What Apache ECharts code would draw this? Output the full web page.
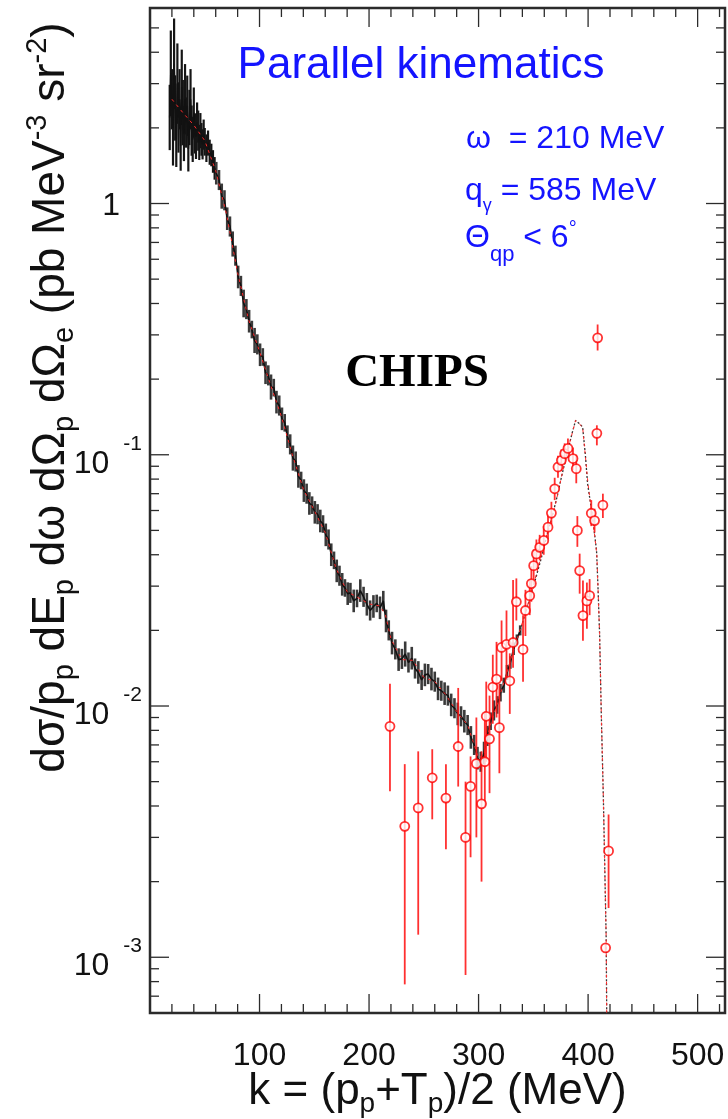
<!DOCTYPE html>
<html><head><meta charset="utf-8">
<script src="https://cdn.jsdelivr.net/npm/echarts@6/dist/echarts.min.js"></script>
<style>html,body{margin:0;padding:0;background:#fff}#c{width:728px;height:1119px}</style>
</head><body><div id="c"></div>
<script>
// ---- CHIPS simulation (noisy histogram) ----
const simK = [18,19,20,21,22,23,24,25,26,27,28,29,30,31,32,33,34,35,36,37,38,39,40,41,42,43,44,45,46,47,48,49,50,51.5,53,54.5,56,57.5,59,
  60.5,63,65.5,68,70.5,73,75.5,78,80.5,83,85.5,88,90.5,93,95.5,98,100.5,103,105.5,108,110.5,113,115.5,118,120.5,123,125.5,128,
  130.5,133,135.5,138,140.5,143,145.5,148,150.5,153,155.5,158,160.5,163,165.5,168,170.5,173,175.5,178,180.5,183,186,189,192,195,
  198,201,204,207,210,213,215.5,218,221,224,227,230,233,236,239,242,245,248,251,254,257,260,263,266,269,272,275,278,281,284,287,
  290,293,296,299,302,305,308,311,314,317,320,323,326,329,332,335,338];
const simY = [2.2,3.3,2.6,2.0,3.6,2.4,1.8,3.0,2.2,2.6,1.7,2.9,2.3,1.9,2.6,2.1,2.45,1.65,2.2,2.6,1.95,1.8,2.3,1.9,1.85,2.1,1.95,1.75,1.95,1.8,1.72,1.88,1.76,1.66,1.74,1.6,1.56,1.47,1.38,
  1.32,1.24,1.07,1.03,0.87,0.81,0.69,0.62,0.51,0.47,0.40,0.38,0.34,0.315,0.285,0.275,0.25,0.245,0.212,0.207,0.186,0.185,0.162,0.157,0.139,0.134,0.118,0.110,
  0.097,0.094,0.082,0.079,0.072,0.070,0.064,0.063,0.059,0.058,0.0545,0.053,0.048,0.046,0.040,0.038,0.0345,0.033,0.0305,0.0295,0.028,0.0282,0.0262,0.0268,0.0288,0.0272,
  0.0254,0.0240,0.0249,0.0256,0.0246,0.0262,0.0218,0.0200,0.0178,0.0168,0.0153,0.0154,0.0161,0.0149,0.0155,0.0141,0.0136,0.0127,0.0133,0.0134,0.0128,0.0125,0.0117,0.0115,0.0112,0.0110,0.0101,0.0098,0.0093,0.0091,0.0087,
  0.0084,0.0075,0.0070,0.0062,0.0060,0.0065,0.0076,0.0087,0.0096,0.0101,0.0113,0.0121,0.0136,0.0149,0.0169,0.0184,0.0200];
// half-length of the simulation error bars, in decades
const simErr = [0.13,0.17,0.12,0.15,0.18,0.13,0.11,0.16,0.14,0.12,0.1,0.15,0.13,0.11,0.14,0.1,0.12,0.09,0.11,0.12,0.1,0.09,0.1,0.08,0.09,0.08,0.08,0.07,0.07,0.065,0.06,0.06,0.055,0.055,0.05,0.05,0.045,0.045,0.045,
  0.045,0.04,0.05,0.04,0.045,0.04,0.05,0.04,0.045,0.04,0.055,0.04,0.045,0.035,0.05,0.04,0.045,0.035,0.045,0.04,0.05,0.035,0.045,0.04,0.045,0.035,0.045,0.04,
  0.05,0.04,0.045,0.035,0.045,0.04,0.045,0.035,0.045,0.04,0.045,0.035,0.045,0.04,0.045,0.035,0.045,0.04,0.045,0.035,0.045,0.04,0.045,0.035,0.045,0.04,
  0.045,0.04,0.045,0.035,0.045,0.04,0.045,0.04,0.045,0.04,0.045,0.04,0.05,0.04,0.045,0.04,0.045,0.04,0.045,0.04,0.045,0.04,0.045,0.04,0.045,0.04,0.045,0.04,0.045,0.04,0.045,
  0.04,0.045,0.04,0.045,0.04,0.045,0.04,0.035,0.04,0.035,0.035,0.03,0.03,0.025,0.025,0.02,0.02];
// thin dotted continuation of the simulation through the quasi-free peak
const peakK = [338,342,346.7,352,357.4,362,367.9,372,375.6,379,381.6,385,388.6,392,395,397.5,399.5,402,404.1,406,407.7,409,410.5,412,414,416.5,417.5];
const peakY = [0.0200,0.0228,0.0267,0.032,0.039,0.047,0.0584,0.069,0.0813,0.094,0.104,0.12,0.137,0.133,0.129,0.10,0.0769,0.065,0.0565,0.048,0.0416,0.030,0.0194,0.0095,0.0042,0.0012,0.0003];
// red dashed model curve
const modelK = [20,30,40,50,60,70,80,90,100,110,120,130,140,150,160,170,180,190,200,210,215,220,230,240,250,260,270,280,290,300,305,310,320,330,340,350,360,370,380,388.6,395,400,405,408,410.5,412,414,416.5,417.5];
const modelY = [2.6,2.3,2.05,1.78,1.35,0.9,0.53,0.345,0.258,0.19,0.142,0.1,0.073,0.06,0.049,0.0352,0.0285,0.027,0.0255,0.025,0.023,0.0185,0.0153,0.0152,0.013,0.0125,0.0111,0.0095,0.0084,0.0062,0.0064,0.0082,0.0112,0.0156,0.0215,0.030,0.0445,0.063,0.099,0.137,0.129,0.076,0.052,0.040,0.0194,0.0095,0.0042,0.0012,0.0003];
// ---- experimental data (red circles) ----
const expK  = [219.1,232.6,244.9,257.7,270.2,281.4,288.1,292.7,298,302.7,305.7,307,310,313,316.4,319,321,325.5,328.5,331.5,334.5,340.6,342.8,346.7,348.2,350.3,352.8,355.8,359.5,363.4,366.5,369.5,372.5,375.6,378.6,381.6,386.2,389.2,390.2,392.3,395.3,398.9,401.4,402.9,405.9,408.0,413.5,408.7,418.7,416.0];
const expY  = [0.0083,0.00332,0.00393,0.00518,0.0043,0.0069,0.0030,0.00479,0.0059,0.00408,0.0060,0.0091,0.0074,0.0119,0.0128,0.0082,0.0171,0.0176,0.0126,0.0179,0.026,0.0168,0.024,0.0275,0.0307,0.0362,0.0403,0.0428,0.0456,0.0515,0.0586,0.0732,0.0894,0.095,0.101,0.106,0.0966,0.088,0.050,0.0346,0.0229,0.0262,0.0275,0.0585,0.0547,0.1217,0.0630,0.292,0.00265,0.00109];
const expLo = [0.00458,0.00078,0.00123,0.00354,0.00269,0.00478,0.00085,0.0025,0.0030,0.0020,0.0040,0.0060,0.0045,0.0085,0.009,0.0054,0.0126,0.0130,0.0093,0.0142,0.0219,0.0125,0.019,0.023,0.026,0.031,0.035,0.038,0.040,0.046,0.053,0.066,0.081,0.086,0.092,0.097,0.087,0.077,0.043,0.028,0.0182,0.0203,0.023,0.052,0.049,0.109,0.056,0.26,0.00157,0.00105];
const expHi = [0.01225,0.00587,0.0066,0.00673,0.00587,0.0118,0.0050,0.0063,0.0090,0.0066,0.0095,0.0125,0.011,0.016,0.018,0.0122,0.0219,0.0240,0.0162,0.0317,0.0322,0.023,0.029,0.032,0.036,0.042,0.046,0.048,0.052,0.058,0.065,0.081,0.099,0.105,0.111,0.116,0.107,0.10,0.057,0.0404,0.0316,0.031,0.032,0.066,0.061,0.131,0.070,0.33,0.0037,0.00113];
// ---- axes ----
const xMajorTicks = [100,200,300,400,500];
const xMinorTicks = [20,40,60,80,120,140,160,180,220,240,260,280,320,340,360,380,420,440,460,480,520];
const yMajorTicks = [0.001,0.01,0.1,1];
const yMinorTicks = [0.0007,0.0008,0.0009,0.002,0.003,0.004,0.005,0.006,0.007,0.008,0.009,0.02,0.03,0.04,0.05,0.06,0.07,0.08,0.09,0.2,0.3,0.4,0.5,0.6,0.7,0.8,0.9,2,3,4,5];
const X_MIN = 0, X_MAX = 525, Y_MIN = 0.0006, Y_MAX = 6;

const FONT = "'Liberation Sans', Arial, Helvetica, sans-serif";
const chart = echarts.init(document.getElementById('c'), null, {renderer:'canvas'});

function zip(a,b){ return a.map((v,i)=>[v,b[i]]); }

function tickSeries(data, isX){
  return {
    type:'custom', silent:true, clip:false, z:10,
    data: data,
    renderItem(params, api){
      const cs = params.coordSys;
      const v = api.value(isX?0:1);
      const major = api.value(2) === 1;
      const L = major ? 19 : 9;
      const st = {stroke:'#2b2b2b', lineWidth:1.3};
      if (isX){
        const x = api.coord([v, 1])[0];
        return {type:'group', children:[
          {type:'line', shape:{x1:x,y1:cs.y+cs.height,x2:x,y2:cs.y+cs.height-L}, style:st},
          {type:'line', shape:{x1:x,y1:cs.y,x2:x,y2:cs.y+L}, style:st}
        ]};
      } else {
        const y = api.coord([100, v])[1];
        return {type:'group', children:[
          {type:'line', shape:{x1:cs.x,y1:y,x2:cs.x+L,y2:y}, style:st},
          {type:'line', shape:{x1:cs.x+cs.width,y1:y,x2:cs.x+cs.width-L,y2:y}, style:st}
        ]};
      }
    }
  };
}

const xTickData = xMajorTicks.map(v=>[v,1,1]).concat(xMinorTicks.map(v=>[v,1,0]));
const yTickData = yMajorTicks.map(v=>[100,v,1]).concat(yMinorTicks.map(v=>[100,v,0]));

const option = {
  animation:false,
  backgroundColor:'#fff',
  grid:{left:150, top:8, width:575, height:1005, containLabel:false, outerBoundsMode:'none',
    show:true, borderColor:'#2b2b2b', borderWidth:2.5, backgroundColor:'transparent'},
  xAxis:{
    type:'value', min:X_MIN, max:X_MAX, interval:100,
    axisLine:{show:false}, axisTick:{show:false}, splitLine:{show:false},
    axisLabel:{
      margin:27, color:'#111', fontSize:32, fontFamily:FONT,
      formatter:v => (v>0 && v%100===0) ? String(v) : ''
    },
    name:'k = (p{s|p}+T{s|p})/2 (MeV)', nameLocation:'middle', nameGap:53, nameMoveOverlap:false,
    nameTextStyle:{color:'#111', fontSize:44, fontFamily:FONT,
      rich:{s:{fontSize:28, fontFamily:FONT, color:'#111', padding:[24,0,0,0]}}}
  },
  yAxis:{
    type:'log', logBase:10, min:Y_MIN, max:Y_MAX,
    axisLine:{show:false}, axisTick:{show:false}, splitLine:{show:false},
    axisLabel:{
      margin:8, color:'#111', fontFamily:FONT,
      formatter:function(v){
        const e = Math.log10(v), r = Math.round(e);
        if (Math.abs(e-r) > 1e-6) return '';
        if (r === 0) return '{one|1}';
        return '{b|10}{e|' + r + '}';
      },
      rich:{
        one:{fontSize:32, fontFamily:FONT, color:'#111', padding:[6,22,0,0]},
        b:{fontSize:32, fontFamily:FONT, color:'#111', padding:[18,0,0,0]},
        e:{fontSize:21, fontFamily:FONT, color:'#111', padding:[0,0,22,14]}
      }
    },
    name:'dσ/p{s|p} dE{s|p} dω dΩ{s|p} dΩ{s|e} (pb MeV{u|-3} sr{u|-2})',
    nameLocation:'middle', nameRotate:90, nameGap:71, nameMoveOverlap:false,
    nameTextStyle:{color:'#111', fontSize:46, fontFamily:FONT, padding:[0,0,0,226],
      rich:{
        s:{fontSize:29, fontFamily:FONT, color:'#111', padding:[27,0,0,0]},
        u:{fontSize:29, fontFamily:FONT, color:'#111', padding:[0,0,27,0]}
      }}
  },
  series:[
    {
      type:'custom', name:'simErr', silent:true, z:2,
      data: simK.map((k,i)=>[k, simY[i], simErr[i]]),
      encode:{x:0, y:1},
      renderItem(params, api){
        const k = api.value(0), y = api.value(1), e = api.value(2);
        const p1 = api.coord([k, y/Math.pow(10,e)]);
        const p2 = api.coord([k, y*Math.pow(10,e)]);
        return {type:'line', shape:{x1:p1[0],y1:p1[1],x2:p2[0],y2:p2[1]},
          style:{stroke: k < 60 ? '#151515' : '#3a3a3a', lineWidth: k < 60 ? 2.2 : 2.6}};
      }
    },
    {
      type:'line', name:'CHIPS', data:zip(simK, simY), symbol:'none', z:3,
      lineStyle:{color:'#111', width:1.6}
    },
    {
      type:'line', name:'peak', data:zip(peakK, peakY), symbol:'none', z:3,
      lineStyle:{color:'#333', width:1.3, type:[2,2]}
    },
    {
      type:'line', name:'model', data:zip(modelK, modelY), symbol:'none', z:4,
      lineStyle:{color:'#ff2a2a', width:1, type:[3,4]}
    },
    {
      type:'custom', name:'expErr', silent:true, z:5,
      data: expK.map((k,i)=>[k, expY[i], expLo[i], expHi[i]]),
      encode:{x:0, y:1},
      renderItem(params, api){
        const k = api.value(0);
        const p1 = api.coord([k, api.value(2)]);
        const p2 = api.coord([k, api.value(3)]);
        return {type:'line', shape:{x1:p1[0],y1:p1[1],x2:p2[0],y2:p2[1]}, style:{stroke:'#ff1a1a', lineWidth:1.8, opacity:0.9}};
      }
    },
    {
      type:'scatter', name:'data', data:zip(expK, expY), symbol:'circle', symbolSize:9, z:6,
      itemStyle:{color:'#ffffff', borderColor:'#ff0000', borderWidth:1.8}
    },
    tickSeries(xTickData, true),
    tickSeries(yTickData, false)
  ],
  graphic:[
    {type:'text', z:20, style:{text:'Parallel kinematics', x:421, y:66, align:'center', verticalAlign:'middle',
      fill:'#1414ff', font:'44px ' + FONT}},
    {type:'text', z:20, style:{text:'ω  = 210 MeV', x:466, y:139, align:'left', verticalAlign:'middle',
      fill:'#1414ff', font:'32px ' + FONT}},
    {type:'text', z:20, style:{text:'q{s|γ} = 585 MeV', x:465, y:191, align:'left', verticalAlign:'middle',
      fill:'#1414ff', font:'32px ' + FONT,
      rich:{s:{fontSize:18, fontFamily:FONT, fill:'#1414ff', padding:[30,0,0,0]}}}},
    {type:'text', z:20, style:{text:'Θ{s|qp} < 6{d|°}', x:465, y:238, align:'left', verticalAlign:'middle',
      fill:'#1414ff', font:'32px ' + FONT,
      rich:{s:{fontSize:22, fontFamily:FONT, fill:'#1414ff', padding:[34,0,0,0]},
            d:{fontSize:20, fontFamily:FONT, fill:'#1414ff', padding:[0,0,18,0]}}}},
    {type:'text', z:20, style:{text:'CHIPS', x:417, y:374, align:'center', verticalAlign:'middle',
      fill:'#000', font:'bold 47px "Liberation Serif", "Times New Roman", serif'}}
  ]
};
chart.setOption(option);
</script>
</body></html>
